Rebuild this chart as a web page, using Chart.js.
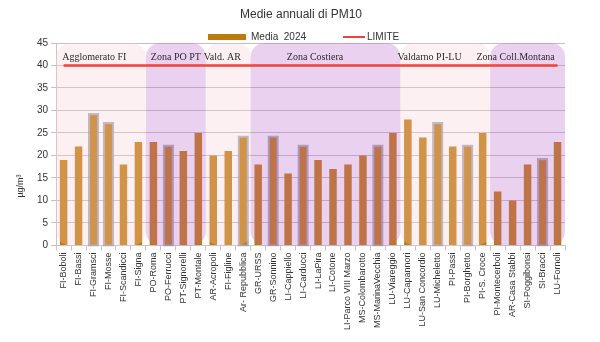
<!DOCTYPE html>
<html>
<head>
<meta charset="utf-8">
<script src="https://cdn.jsdelivr.net/npm/chart.js@4"></script>
<style>
  html, body { margin: 0; padding: 0; background: #fff; }
  #wrap { width: 600px; height: 342px; }
</style>
</head>
<body>
<div id="wrap"><canvas id="pm10"></canvas></div>
<script>
// stations (x categories)
const stations = [
  "FI-Boboli", "FI-Bassi", "FI-Gramsci", "FI-Mosse", "FI-Scandicci", "FI-Signa",
  "PO-Roma", "PO-Ferrucci", "PT-Signorelli", "PT-Montale",
  "AR-Acropoli", "FI-Figline", "Ar- Repubblica",
  "GR-URSS", "GR-Sonnino", "LI-Cappiello", "LI-Carducci", "LI-LaPira", "LI-Cotone",
  "LI-Parco VIII Marzo", "MS-Colombarotto", "MS-MarinaVecchia", "LU-Viareggio",
  "LU-Capannori", "LU-San Concordio", "LU-Micheletto", "PI-Passi", "PI-Borghetto", "PI-S. Croce",
  "PI-Montecerboli", "AR-Casa Stabbi", "SI-Poggibonsi", "SI-Bracci", "LU-Fornoli"
];

// annual mean 2024, µg/m³
const media2024 = [
  19, 22, 29, 27, 18, 23,
  23, 22, 21, 25,
  20, 21, 24,
  18, 24, 16, 22, 19, 17,
  18, 20, 22, 25,
  28, 24, 27, 22, 22, 25,
  12, 10, 18, 19, 23
];

// stations with the grey outline
const outlined = [
  "FI-Gramsci", "FI-Mosse", "PO-Ferrucci", "Ar- Repubblica", "GR-Sonnino",
  "LI-Carducci", "MS-MarinaVecchia", "LU-Micheletto", "PI-Borghetto", "SI-Bracci"
];

// limit value
const limite = [
  40, 40, 40, 40, 40, 40, 40, 40, 40, 40, 40, 40, 40, 40, 40, 40, 40,
  40, 40, 40, 40, 40, 40, 40, 40, 40, 40, 40, 40, 40, 40, 40, 40, 40
];

const yTicks = [0, 5, 10, 15, 20, 25, 30, 35, 40, 45];

// zones: first / last station index, label, where the label sits
const zoneNames  = ["Agglomerato FI", "Zona PO PT", "Vald. AR", "Zona Costiera", "Valdarno PI-LU", "Zona Coll.Montana"];
const zoneFirst  = [0, 6, 10, 13, 23, 29];
const zoneLast   = [5, 9, 12, 22, 28, 33];
const zoneLabelAt = [2.05, 7.5, 10.6, 16.8, 24.45, 30.2];
const zonePurple = [false, true, false, true, false, true];

const BAR_COLOR = "#bf7a0c";
const PINK = "rgba(248,205,212,0.3)";
const PURPLE = "rgba(190,102,205,0.3)";

const outlineData = stations.map((s, i) =>
  outlined.includes(s) ? [-0.2, media2024[i] + 0.45] : null);

function roundedBox(ctx, x, y, w, h, r) {
  ctx.beginPath();
  ctx.moveTo(x + r, y);
  ctx.arcTo(x + w, y, x + w, y + h, r);
  ctx.arcTo(x + w, y + h, x, y + h, r);
  ctx.arcTo(x, y + h, x, y, r);
  ctx.arcTo(x, y, x + w, y, r);
  ctx.closePath();
}

const zonePlugin = {
  id: "zones",
  beforeDatasetDraw(chart, args) {
    if (args.meta.type !== "line") return;
    const { ctx, chartArea: a, scales: { x } } = chart;
    const half = (x.getPixelForValue(1) - x.getPixelForValue(0)) / 2;
    ctx.save();
    zoneNames.forEach((n, i) => {
      const l = x.getPixelForValue(zoneFirst[i]) - half;
      const r = x.getPixelForValue(zoneLast[i]) + half;
      roundedBox(ctx, l, a.top, r - l, a.bottom - a.top, 14);
      ctx.fillStyle = zonePurple[i] ? PURPLE : PINK;
      ctx.fill();
    });
    ctx.restore();
  },
  afterDatasetsDraw(chart) {
    const { ctx, scales: { x, y } } = chart;
    const half = (x.getPixelForValue(1) - x.getPixelForValue(0)) / 2;
    ctx.save();
    ctx.font = "10px 'Liberation Serif'";
    ctx.fillStyle = "#2b2b2b";
    ctx.textAlign = "center";
    ctx.textBaseline = "middle";
    zoneNames.forEach((n, i) => {
      const px = x.getPixelForValue(0) - half + (zoneLabelAt[i] + 0.5) * half * 2;
      ctx.fillText(n, px, y.getPixelForValue(41.8));
    });
    ctx.restore();
  },
  afterDraw(chart) {
    const { ctx } = chart;
    ctx.save();
    ctx.fillStyle = "#333";
    ctx.textBaseline = "middle";
    ctx.textAlign = "center";
    ctx.font = "12px 'Liberation Sans'";
    ctx.fillText("Medie annuali di PM10", 301, 15);

    // legend
    ctx.font = "10px 'Liberation Sans'";
    ctx.textAlign = "left";
    ctx.fillStyle = BAR_COLOR;
    ctx.fillRect(208, 34, 38, 6);
    ctx.fillStyle = "#333";
    ctx.fillText("Media  2024", 251, 37);
    ctx.strokeStyle = "#f2413a";
    ctx.lineWidth = 2;
    ctx.beginPath();
    ctx.moveTo(343, 37);
    ctx.lineTo(365, 37);
    ctx.stroke();
    ctx.fillText("LIMITE", 367, 37);

    // y title
    ctx.translate(21, 186);
    ctx.rotate(-Math.PI / 2);
    ctx.textAlign = "center";
    ctx.font = "9px 'Liberation Sans'";
    ctx.fillText("µg/m³", 0, 0);
    ctx.restore();
  }
};

new Chart(document.getElementById("pm10"), {
  data: {
    labels: stations,
    datasets: [
      {
        type: "line",
        label: "LIMITE",
        data: limite,
        borderColor: "#f2413a",
        borderWidth: 2.5,
        pointRadius: 0,
        order: 1
      },
      {
        type: "bar",
        label: "evidenza",
        data: outlineData,
        backgroundColor: "rgba(0,0,0,0)",
        borderColor: "rgba(150,150,155,0.75)",
        borderWidth: 2.5,
        borderSkipped: false,
        barPercentage: 0.76,
        categoryPercentage: 1,
        grouped: false,
        clip: false,
        order: 2
      },
      {
        type: "bar",
        label: "Media  2024",
        data: media2024,
        backgroundColor: BAR_COLOR,
        barPercentage: 0.5,
        categoryPercentage: 1,
        grouped: false,
        order: 3
      }
    ]
  },
  options: {
    responsive: true,
    maintainAspectRatio: false,
    animation: false,
    layout: { padding: { left: 34, right: 35, top: 43, bottom: 10 } },
    plugins: {
      legend: { display: false },
      title: { display: false },
      tooltip: { enabled: false }
    },
    scales: {
      x: {
        grid: { display: true, drawOnChartArea: false, tickLength: 5, color: "#c4c4c4" },
        border: { color: "#cdc2ca" },
        ticks: {
          minRotation: 90, maxRotation: 90, autoSkip: false, padding: 2,
          color: "#333", font: { family: "'Liberation Sans'", size: 9 }
        }
      },
      y: {
        min: 0, max: 45,
        afterBuildTicks: s => { s.ticks = yTicks.map(v => ({ value: v })); },
        grid: { color: "#c6c0c6", tickLength: 5 },
        border: { color: "#cdc2ca" },
        ticks: {
          padding: 3, color: "#333",
          font: { family: "'Liberation Sans'", size: 10 }
        }
      }
    }
  },
  plugins: [zonePlugin]
});
</script>
</body>
</html>
